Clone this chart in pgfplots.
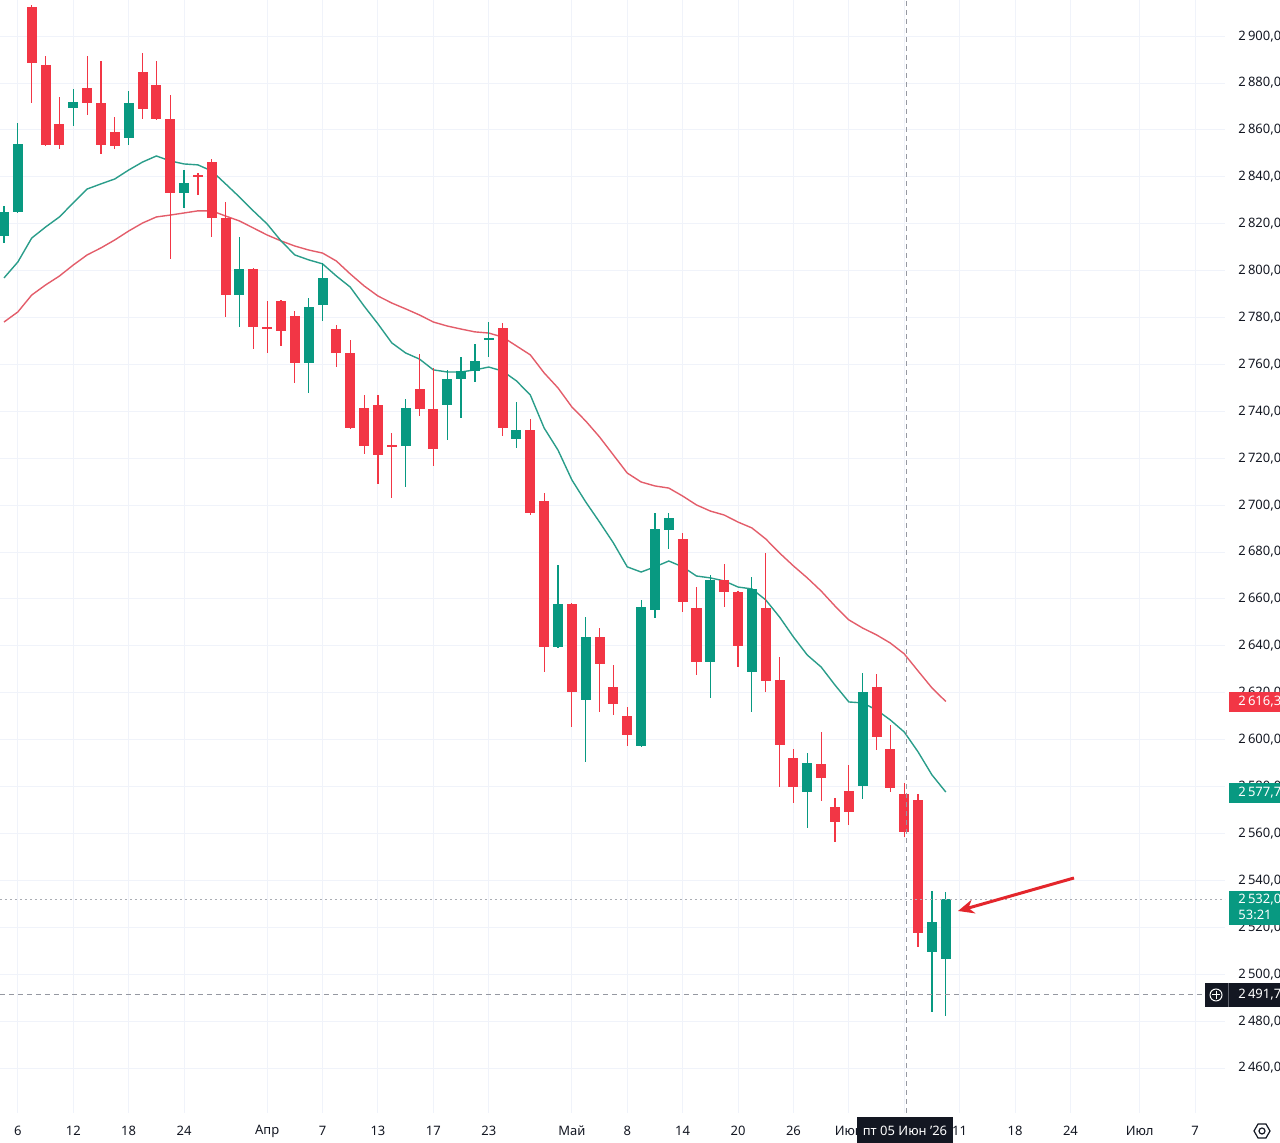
\documentclass[border=0pt]{standalone}
\usepackage{fontspec}
\setmainfont{Noto Sans}
\usepackage{pgfplots}
\pgfplotsset{compat=1.18}
\usepackage{pgfplotstable}
\usetikzlibrary{arrows.meta}

\definecolor{upc}{HTML}{089981}
\definecolor{dnc}{HTML}{F23645}
\definecolor{magc}{HTML}{2A9D8A}
\definecolor{marc}{HTML}{E35D6A}
\definecolor{gridc}{HTML}{F0F3FA}
\definecolor{txtc}{HTML}{131722}
\definecolor{crossc}{HTML}{9598A1}
\definecolor{arrc}{HTML}{E3262C}

\pgfplotstableread{
i O H L C
2 2912.4 2913.3 2871.5 2888.6
3 2887.7 2891.5 2853.2 2853.6
4 2862.5 2874.1 2851.9 2853.6
6 2877.9 2891.5 2866.4 2871.5
7 2871.5 2889.4 2849.8 2853.6
8 2859.1 2865.5 2851.9 2853.2
10 2884.7 2892.8 2864.7 2869.0
11 2879.2 2889.4 2864.3 2864.7
12 2864.7 2874.9 2805.0 2833.1
14 2840.6 2841.7 2832.3 2840.2
15 2846.3 2847.6 2814.4 2822.5
16 2822.5 2829.3 2780.3 2789.6
18 2800.7 2801.1 2766.6 2776.0
19 2776.0 2787.1 2764.9 2775.1
20 2787.1 2787.5 2767.9 2774.3
21 2780.7 2782.8 2752.1 2760.6
24 2775.1 2776.8 2758.9 2764.9
25 2764.9 2770.4 2732.5 2732.9
26 2741.4 2747.0 2721.8 2725.2
27 2742.7 2747.0 2709.0 2721.4
28 2725.4 2730.8 2703.1 2725.0
30 2749.6 2764.5 2738.0 2741.0
31 2741.0 2758.5 2716.7 2724.0
36 2775.6 2777.7 2729.5 2732.9
38 2732.1 2736.8 2695.8 2696.7
39 2701.8 2705.2 2628.9 2639.5
41 2657.9 2658.3 2605.4 2620.4
43 2643.8 2647.6 2611.8 2632.3
44 2622.5 2631.9 2610.5 2615.2
45 2610.1 2614.0 2597.3 2602.0
49 2685.6 2688.2 2654.5 2658.7
50 2656.2 2665.1 2627.6 2633.1
52 2668.1 2674.9 2656.6 2663.0
53 2663.0 2663.4 2631.0 2640.0
55 2656.2 2679.6 2620.4 2625.0
56 2625.5 2635.3 2579.8 2597.8
57 2592.2 2596.1 2573.0 2579.8
59 2589.6 2603.3 2573.9 2583.7
60 2571.3 2575.2 2556.4 2564.9
61 2578.1 2589.2 2563.6 2569.2
63 2622.5 2628.0 2595.6 2601.2
64 2596.1 2606.3 2577.7 2579.4
65 2576.9 2581.5 2558.5 2560.7
66 2574.3 2576.9 2511.6 2517.6
}\downtab

\pgfplotstableread{
i O H L C
0 2814.8 2827.6 2811.8 2825.0
1 2825.0 2863.0 2824.6 2854.0
5 2869.4 2877.5 2861.7 2871.9
9 2856.6 2876.6 2853.6 2871.5
13 2833.1 2842.9 2826.7 2837.4
17 2789.6 2814.4 2776.0 2800.7
22 2760.6 2788.4 2747.8 2784.5
23 2785.4 2803.3 2778.5 2796.9
29 2725.2 2745.3 2707.8 2741.4
32 2742.7 2757.7 2727.8 2753.8
33 2753.8 2763.2 2737.2 2757.2
34 2757.2 2768.7 2752.5 2761.5
35 2770.4 2778.1 2763.2 2771.3
37 2728.2 2744.0 2724.4 2732.1
40 2639.5 2674.5 2639.1 2657.9
42 2616.9 2652.3 2590.5 2643.8
46 2597.3 2659.6 2596.9 2656.6
47 2655.3 2696.7 2651.9 2689.9
48 2689.4 2696.7 2681.3 2694.5
51 2633.1 2670.2 2617.8 2668.1
54 2628.9 2669.4 2611.8 2664.3
58 2577.7 2594.3 2562.4 2590.1
62 2580.3 2628.5 2574.7 2620.4
67 2509.5 2535.5 2483.9 2522.3
68 2506.5 2535.1 2482.2 2532.0
}\uptab

\pgfplotstableread{
i v
0 2796.9
1 2803.7
2 2813.9
3 2818.6
4 2822.9
5 2828.9
6 2834.8
7 2837.0
8 2839.1
9 2842.9
10 2846.3
11 2848.9
12 2846.8
13 2845.5
14 2845.1
15 2842.5
16 2837.0
17 2831.4
18 2825.5
19 2819.9
20 2812.7
21 2806.7
22 2804.6
23 2802.9
24 2797.7
25 2793.0
26 2784.9
27 2777.3
28 2769.2
29 2764.9
30 2762.3
31 2757.7
32 2756.8
33 2756.8
34 2757.7
35 2758.9
36 2757.2
37 2753.0
38 2747.0
39 2732.9
40 2723.5
41 2710.8
42 2701.4
43 2692.8
44 2683.9
45 2673.7
46 2671.5
47 2673.7
48 2676.2
49 2673.7
50 2669.8
51 2669.0
52 2667.7
53 2665.1
54 2664.3
55 2659.6
56 2652.3
57 2643.8
58 2636.1
59 2631.0
60 2623.3
61 2616.1
62 2615.7
63 2612.7
64 2608.4
65 2603.3
66 2594.8
67 2585.0
68 2577.7
}\mafast

\pgfplotstableread{
i v
0 2778.1
1 2782.4
2 2789.6
3 2793.9
4 2797.7
5 2802.4
6 2806.7
7 2809.7
8 2813.1
9 2816.9
10 2820.3
11 2822.9
12 2823.7
13 2824.6
14 2825.5
15 2825.5
16 2823.3
17 2821.2
18 2818.2
19 2815.2
20 2812.7
21 2810.5
22 2808.8
23 2807.5
24 2804.1
25 2798.6
26 2793.5
27 2789.2
28 2786.2
29 2783.7
30 2781.1
31 2778.1
32 2776.4
33 2775.1
34 2773.9
35 2773.4
36 2771.7
37 2767.9
38 2764.1
39 2756.4
40 2750.0
41 2741.9
42 2735.9
43 2729.1
44 2721.4
45 2713.7
46 2709.9
47 2708.2
48 2707.3
49 2703.9
50 2700.1
51 2697.5
52 2695.8
53 2692.8
54 2690.3
55 2685.6
56 2679.6
57 2674.1
58 2669.0
59 2663.4
60 2657.0
61 2651.1
62 2647.6
63 2644.7
64 2641.2
65 2636.6
66 2629.3
67 2622.1
68 2616.3
}\maslow

\pgfplotsset{
  candle/.style 2 args={only marks, mark size=0pt,
    mark options={draw opacity=0, fill opacity=0},
    error bars/.cd, y dir=both, y explicit, error mark=none,
    error bar style={draw=#1, line width=#2, line cap=butt}},
}

\begin{document}
\begin{tikzpicture}
\useasboundingbox (0pt,0pt) rectangle (640pt,571.5pt);
\clip (0pt,0pt) rectangle (640pt,571.5pt);
\begin{axis}[
  at={(0pt,15pt)}, anchor=south west,
  scale only axis, width=612.5pt, height=556.5pt,
  xmin=-0.289, xmax=88.16, ymin=2440.84, ymax=2915.42,
  axis line style={draw=none},
  major tick length=0pt,
  tick style={draw=none},
  grid=major,
  major grid style={draw=gridc, line width=0.5pt},
  ytick={2460,2480,...,2900},
  yticklabel pos=right,
  scaled y ticks=false,
  yticklabel style={anchor=west, inner sep=0pt, xshift=6.5pt,
    font=\fontsize{6.5}{8}\selectfont, text=txtc,
    /pgf/number format/.cd, fixed, fixed zerofill, precision=2,
    use comma, 1000 sep={\,}, assume math mode=true},
  xtick={1,5,9,13,19,23,27,31,35,41,45,49,53,57,61,65,69,73,77,82,86},
  xticklabels={6,12,18,24,Апр,7,13,17,23,Май,8,14,20,26,Июн,,11,18,24,Июл,7},
  xticklabel style={anchor=center, inner sep=0pt, yshift=-9pt,
    font=\fontsize{6.5}{8}\selectfont, text=txtc},
]
% moving averages
\addplot[marc, line width=0.7pt, mark=none] table[x=i, y=v] {\maslow};
\addplot[magc, line width=0.7pt, mark=none] table[x=i, y=v] {\mafast};
% wicks
\addplot[candle={dnc}{0.6pt}]
  table[x=i, y expr={(\thisrow{H}+\thisrow{L})/2}, y error expr={(\thisrow{H}-\thisrow{L})/2}] {\downtab};
\addplot[candle={upc}{0.6pt}]
  table[x=i, y expr={(\thisrow{H}+\thisrow{L})/2}, y error expr={(\thisrow{H}-\thisrow{L})/2}] {\uptab};
% bodies
\addplot[candle={dnc}{5pt}]
  table[x=i, y expr={(\thisrow{O}+\thisrow{C})/2}, y error expr={max(abs(\thisrow{O}-\thisrow{C})/2,0.45)}] {\downtab};
\addplot[candle={upc}{5pt}]
  table[x=i, y expr={(\thisrow{O}+\thisrow{C})/2}, y error expr={max(abs(\thisrow{O}-\thisrow{C})/2,0.45)}] {\uptab};
% price line and crosshair
\draw[color=crossc!80, line width=0.5pt, dash pattern=on 1pt off 1.5pt] (axis cs:-0.3,2532.0) -- (axis cs:88.2,2532.0);
\draw[color=crossc, line width=0.5pt, dash pattern=on 2.5pt off 2pt] (axis cs:-0.3,2491.2) -- (axis cs:86.7,2491.2);
\draw[color=crossc, line width=0.5pt, dash pattern=on 2.5pt off 2pt] (axis cs:65.13,2440.84) -- (axis cs:65.13,2915.42);
\end{axis}
\begin{scope}[shift={(0pt,571.5pt)}, x=0.5pt, y=-0.5pt]
  % arrow
  \draw[arrc, line width=1.5pt, -{Stealth[length=8pt, width=7pt]}] (1074,878) -- (958,911);
  % price labels
  \fill[dnc] (1229,692) rectangle (1290,712);
  \node[anchor=west, inner sep=0pt, text=white, font=\fontsize{6.5}{8}\selectfont] at (1238,702) {2\,616,33};
  \fill[upc] (1229,783) rectangle (1290,803);
  \node[anchor=west, inner sep=0pt, text=white, font=\fontsize{6.5}{8}\selectfont] at (1238,793) {2\,577,79};
  \fill[upc] (1229,891) rectangle (1290,925);
  \node[anchor=west, inner sep=0pt, text=white, font=\fontsize{6.5}{8}\selectfont] at (1238,900) {2\,532,00};
  \node[anchor=west, inner sep=0pt, text=white, font=\fontsize{6.5}{8}\selectfont] at (1238,915) {53:21};
  \fill[txtc] (1205,983) rectangle (1290,1007);
  \draw[white, line width=0.5pt] (1216,995) circle (6);
  \draw[white, line width=0.5pt] (1212,995) -- (1220,995) (1216,991) -- (1216,999);
  \draw[crossc!60!txtc, line width=0.5pt] (1228,983) -- (1228,1007);
  \node[anchor=west, inner sep=0pt, text=white, font=\fontsize{6.5}{8}\selectfont\bfseries] at (1238,995) {2\,491,79};
  % date label
  \fill[txtc] (857,1117) rectangle (953,1150);
  \node[inner sep=0pt, text=white, font=\fontsize{6.5}{8}\selectfont\bfseries] at (905,1131) {пт 05 Июн ’26};
  % settings icon
  \draw[txtc, line width=0.6pt] (1262,1131) +(0:8) -- +(60:8) -- +(120:8) -- +(180:8) -- +(240:8) -- +(300:8) -- cycle;
  \draw[txtc, line width=0.6pt] (1262,1131) circle (3);
\end{scope}
\end{tikzpicture}
\end{document}
